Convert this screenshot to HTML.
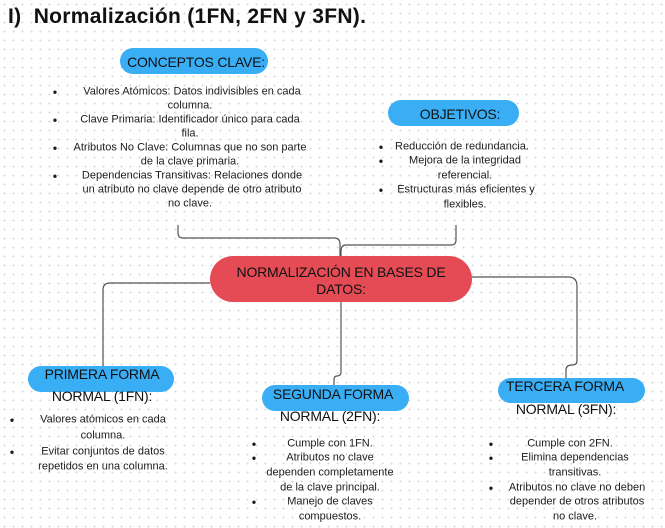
<!DOCTYPE html>
<html><head><meta charset="utf-8"><style>
html,body{margin:0;padding:0}
body{width:665px;height:528px;position:relative;overflow:hidden;background:#fff;
background-image:radial-gradient(circle,#d8d8d8 0.8px,transparent 1.1px);background-size:9px 9px;
font-family:"Liberation Sans","DejaVu Sans",sans-serif;color:#1c1c1c}
.t{position:absolute;transform:translate(-50%,-50%);white-space:nowrap;font-size:11px;line-height:1}
.h{font-size:14px;color:#111;letter-spacing:-0.2px}
.p{position:absolute;background:#3aaef5;border-radius:14px}
.b{position:absolute;transform:translate(-50%,-50%);font-size:12px;font-weight:bold}
svg{position:absolute;left:0;top:0}
</style></head><body>
<div style="position:absolute;left:8px;top:5px;font-size:21px;font-weight:bold;color:#111;white-space:nowrap;letter-spacing:0.3px">I)&nbsp; Normalización (1FN, 2FN y 3FN).</div>

<svg width="665" height="528" fill="none" stroke="#555" stroke-width="1.2">
<path d="M178 225 V233 Q178 238 183 238 H334 Q340 238 340 244 V256"/>
<path d="M456 225 V240 Q456 245 451 245 H346 Q341 245 341 251 V256"/>
<path d="M210 283 H110 Q103 283 103 290 V368"/>
<path d="M341 300 V372 Q341 376 337 376 Q334 376 334 380 V386"/>
<path d="M472 277 H568 Q577 277 577 286 V361 Q577 365 572 365 Q566 365 566 370 V378"/>
</svg>

<div class="p" style="left:120px;top:48px;width:148px;height:26px"></div>
<div class="t h" style="left:196px;top:62px">CONCEPTOS CLAVE:</div>
<div class="b" style="left:55px;top:92px">•</div>
<div class="t" style="left:192px;top:92px">Valores Atómicos: Datos indivisibles en cada</div>
<div class="t" style="left:190px;top:106px">columna.</div>
<div class="b" style="left:55px;top:120px">•</div>
<div class="t" style="left:190px;top:120px">Clave Primaria: Identificador único para cada</div>
<div class="t" style="left:190px;top:134px">fila.</div>
<div class="b" style="left:55px;top:148px">•</div>
<div class="t" style="left:190px;top:148px">Atributos No Clave: Columnas que no son parte</div>
<div class="t" style="left:190px;top:162px">de la clave primaria.</div>
<div class="b" style="left:55px;top:176px">•</div>
<div class="t" style="left:192px;top:176px">Dependencias Transitivas: Relaciones donde</div>
<div class="t" style="left:192px;top:190px">un atributo no clave depende de otro atributo</div>
<div class="t" style="left:190px;top:204px">no clave.</div>

<div class="p" style="left:388px;top:100px;width:131px;height:26px"></div>
<div class="t h" style="left:460px;top:114px">OBJETIVOS:</div>
<div class="b" style="left:381px;top:147px">•</div>
<div class="t" style="left:462px;top:147px">Reducción de redundancia.</div>
<div class="b" style="left:381px;top:161px">•</div>
<div class="t" style="left:465px;top:161px">Mejora de la integridad</div>
<div class="t" style="left:465px;top:176px">referencial.</div>
<div class="b" style="left:381px;top:190px">•</div>
<div class="t" style="left:466px;top:190px">Estructuras más eficientes y</div>
<div class="t" style="left:465px;top:205px">flexibles.</div>

<div style="position:absolute;left:210px;top:256px;width:262px;height:46px;background:#e44b54;border-radius:23px"></div>
<div class="t h" style="left:341px;top:272px">NORMALIZACIÓN EN BASES DE</div>
<div class="t h" style="left:341px;top:289px">DATOS:</div>

<div class="p" style="left:28px;top:366px;width:146px;height:26px"></div>
<div class="t h" style="left:102px;top:374px">PRIMERA FORMA</div>
<div class="t h" style="left:102px;top:396px">NORMAL (1FN):</div>
<div class="b" style="left:12px;top:420px">•</div>
<div class="t" style="left:103px;top:420px">Valores atómicos en cada</div>
<div class="t" style="left:103px;top:436px">columna.</div>
<div class="b" style="left:12px;top:452px">•</div>
<div class="t" style="left:103px;top:452px">Evitar conjuntos de datos</div>
<div class="t" style="left:103px;top:467px">repetidos en una columna.</div>

<div class="p" style="left:262px;top:385px;width:147px;height:26px"></div>
<div class="t h" style="left:333px;top:394px">SEGUNDA FORMA</div>
<div class="t h" style="left:330px;top:416px">NORMAL (2FN):</div>
<div class="b" style="left:254px;top:444px">•</div>
<div class="t" style="left:330px;top:444px">Cumple con 1FN.</div>
<div class="b" style="left:254px;top:458px">•</div>
<div class="t" style="left:330px;top:458px">Atributos no clave</div>
<div class="t" style="left:330px;top:473px">dependen completamente</div>
<div class="t" style="left:330px;top:488px">de la clave principal.</div>
<div class="b" style="left:254px;top:502px">•</div>
<div class="t" style="left:330px;top:502px">Manejo de claves</div>
<div class="t" style="left:330px;top:517px">compuestos.</div>

<div class="p" style="left:498px;top:378px;width:147px;height:25px"></div>
<div class="t h" style="left:565px;top:386px">TERCERA FORMA</div>
<div class="t h" style="left:566px;top:409px">NORMAL (3FN):</div>
<div class="b" style="left:491px;top:444px">•</div>
<div class="t" style="left:570px;top:444px">Cumple con 2FN.</div>
<div class="b" style="left:491px;top:458px">•</div>
<div class="t" style="left:575px;top:458px">Elimina dependencias</div>
<div class="t" style="left:575px;top:473px">transitivas.</div>
<div class="b" style="left:491px;top:488px">•</div>
<div class="t" style="left:577px;top:488px">Atributos no clave no deben</div>
<div class="t" style="left:577px;top:502px">depender de otros atributos</div>
<div class="t" style="left:575px;top:517px">no clave.</div>
</body></html>
